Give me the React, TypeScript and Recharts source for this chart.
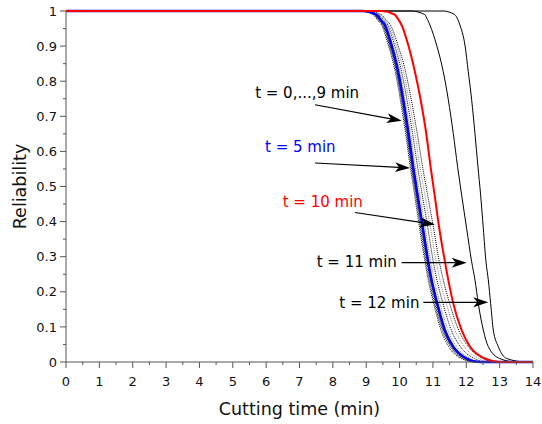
import { LineChart, Line, XAxis, YAxis, ReferenceLine, ReferenceDot, Label } from "recharts";

const FONT = "'DejaVu Sans', sans-serif";

// reliability levels shared by every curve; each curve lists the cutting time (min) where it hits them
const levels = [1, 1, 0.99, 0.975, 0.96, 0.903, 0.827, 0.748, 0.651, 0.556, 0.476, 0.381, 0.286, 0.234, 0.167, 0.091, 0.044, 0.01, 0, 0];

const t0 = [0, 8.8, 9.2, 9.33, 9.46, 9.66, 9.87, 10.02, 10.18, 10.32, 10.45, 10.6, 10.76, 10.86, 11.02, 11.24, 11.47, 11.85, 12.25, 14];
const t1 = [0, 8.82, 9.22, 9.36, 9.49, 9.69, 9.9, 10.05, 10.21, 10.35, 10.48, 10.63, 10.79, 10.89, 11.05, 11.28, 11.52, 11.9, 12.3, 14];
const t2 = [0, 8.85, 9.25, 9.38, 9.51, 9.71, 9.92, 10.07, 10.23, 10.37, 10.5, 10.66, 10.82, 10.92, 11.08, 11.31, 11.55, 11.94, 12.33, 14];
const t3 = [0, 8.87, 9.27, 9.4, 9.53, 9.73, 9.94, 10.09, 10.25, 10.39, 10.52, 10.68, 10.84, 10.94, 11.11, 11.33, 11.58, 11.97, 12.36, 14];
const t4 = [0, 8.88, 9.29, 9.42, 9.55, 9.75, 9.95, 10.1, 10.26, 10.4, 10.53, 10.69, 10.85, 10.95, 11.12, 11.34, 11.59, 11.99, 12.38, 14];
const t5 = [0, 8.9, 9.3, 9.43, 9.56, 9.76, 9.96, 10.11, 10.27, 10.41, 10.54, 10.7, 10.86, 10.96, 11.13, 11.36, 11.61, 12.01, 12.4, 14];
const t6 = [0, 8.93, 9.34, 9.47, 9.6, 9.8, 10.01, 10.16, 10.33, 10.47, 10.61, 10.77, 10.93, 11.04, 11.21, 11.45, 11.71, 12.12, 12.5, 14];
const t7 = [0, 8.96, 9.37, 9.51, 9.64, 9.85, 10.06, 10.22, 10.39, 10.54, 10.68, 10.85, 11.01, 11.12, 11.3, 11.55, 11.82, 12.24, 12.62, 14];
const t8 = [0, 9.0, 9.41, 9.55, 9.68, 9.9, 10.12, 10.28, 10.46, 10.61, 10.76, 10.93, 11.1, 11.21, 11.4, 11.66, 11.94, 12.37, 12.75, 14];
const t9 = [0, 9.04, 9.45, 9.59, 9.73, 9.95, 10.18, 10.35, 10.53, 10.69, 10.84, 11.02, 11.19, 11.31, 11.5, 11.77, 12.06, 12.5, 12.88, 14];
const t10 = [0, 9.45, 9.85, 9.97, 10.06, 10.26, 10.46, 10.63, 10.8, 10.93, 11.05, 11.19, 11.36, 11.46, 11.61, 11.86, 12.11, 12.56, 13.0, 14];
const t11 = [0, 10.35, 10.75, 10.84, 10.91, 11.11, 11.31, 11.46, 11.61, 11.74, 11.86, 12.01, 12.16, 12.26, 12.36, 12.51, 12.66, 13.0, 13.5, 14];
const t12 = [0, 11.3, 11.65, 11.75, 11.81, 11.96, 12.06, 12.16, 12.26, 12.35, 12.43, 12.51, 12.59, 12.66, 12.73, 12.81, 12.96, 13.21, 13.8, 14];

const xTicks = [0, 0.5, 1, 1.5, 2, 2.5, 3, 3.5, 4, 4.5, 5, 5.5, 6, 6.5, 7, 7.5, 8, 8.5, 9, 9.5, 10, 10.5, 11, 11.5, 12, 12.5, 13, 13.5, 14];
const yTicks = [0, 0.05, 0.1, 0.15, 0.2, 0.25, 0.3, 0.35, 0.4, 0.45, 0.5, 0.55, 0.6, 0.65, 0.7, 0.75, 0.8, 0.85, 0.9, 0.95, 1];

// annotation texts and arrow ends, in data units
const noteText = ["t = 0,...,9 min", "t = 5 min", "t = 10 min", "t = 11 min", "t = 12 min"];
const noteColor = ["#000000", "#0000ff", "#ff0000", "#000000", "#000000"];
const notePos = [[5.67, 0.752], [5.966, 0.598], [6.496, 0.442], [7.516, 0.271], [8.193, 0.155]];
const arrowFrom = [[7.465, 0.733], [7.465, 0.567], [8.664, 0.426], [10.064, 0.283], [10.712, 0.17]];
const arrowTo = [[10.064, 0.687], [10.313, 0.553], [11.062, 0.392], [12.012, 0.283], [12.66, 0.17]];

type Curve = { key: string; xs: number[]; color: string; width: number; dash?: string };

const curves: Curve[] = [
  { key: "t9", xs: t9, color: "#000", width: 1, dash: "1 1" },
  { key: "t8", xs: t8, color: "#888", width: 1, dash: "1 1" },
  { key: "t7", xs: t7, color: "#000", width: 1, dash: "1 1" },
  { key: "t6", xs: t6, color: "#888", width: 1, dash: "1 1" },
  { key: "t0", xs: t0, color: "#000", width: 1, dash: "1 1" },
  { key: "t1", xs: t1, color: "#000", width: 1, dash: "1 1" },
  { key: "t2", xs: t2, color: "#000", width: 1, dash: "1 1" },
  { key: "t3", xs: t3, color: "#000", width: 1, dash: "1 1" },
  { key: "t4", xs: t4, color: "#000", width: 1, dash: "1 1" },
  { key: "t11", xs: t11, color: "#000", width: 1 },
  { key: "t12", xs: t12, color: "#000", width: 1 },
  { key: "t5", xs: t5, color: "#0000ff", width: 2.5 },
  { key: "t10", xs: t10, color: "#ff0000", width: 2 },
];

const toPoints = (xs: number[]) => xs.map((x, i) => ({ x, r: levels[i] }));

const AXIS = "#555";

function XTick(props: any) {
  const { x, y, payload } = props;
  const v = payload.value as number;
  const major = Number.isInteger(v);
  return (
    <g>
      <line x1={x} x2={x} y1={y} y2={y + (major ? 6 : 3)} stroke={AXIS} />
      {major && (
        <text x={x} y={y + 24} textAnchor="middle" fontSize={13} fontFamily={FONT} fill="#111">
          {v}
        </text>
      )}
    </g>
  );
}

function YTick(props: any) {
  const { x, y, payload } = props;
  const v = payload.value as number;
  const major = Math.abs(v * 10 - Math.round(v * 10)) < 1e-6;
  return (
    <g>
      <line x1={x} x2={x - (major ? 6 : 3)} y1={y} y2={y} stroke={AXIS} />
      {major && (
        <text x={x - 9} y={y} dy="0.36em" textAnchor="end" fontSize={13} fontFamily={FONT} fill="#111">
          {String(v)}
        </text>
      )}
    </g>
  );
}

function Arrow(props: any) {
  const { x1, y1, x2, y2 } = props;
  const a = Math.atan2(y2 - y1, x2 - x1);
  const c = Math.cos(a);
  const s = Math.sin(a);
  const L = 15;
  const W = 5;
  const bx = x2 - L * c;
  const by = y2 - L * s;
  const nx = x2 - (L - 4) * c;
  const ny = y2 - (L - 4) * s;
  const pts = `${x2},${y2} ${bx - W * s},${by + W * c} ${nx},${ny} ${bx + W * s},${by - W * c}`;
  return (
    <g>
      <line x1={x1} y1={y1} x2={nx} y2={ny} stroke="#000" strokeWidth={1.2} />
      <polygon points={pts} fill="#000" />
    </g>
  );
}

export default function App() {
  return (
    <div style={{ position: "absolute", left: 0, top: 0, background: "#fff" }}>
      <LineChart width={542} height={424} margin={{ top: 11, right: 9, left: 0, bottom: 0 }}>
        <XAxis
          dataKey="x"
          type="number"
          domain={[0, 14]}
          ticks={xTicks}
          interval={0}
          tick={<XTick />}
          tickLine={false}
          tickSize={0}
          tickMargin={0}
          height={62}
          axisLine={{ stroke: AXIS }}
        >
          <Label
            content={(p: any) => {
              const vb = p.viewBox || { x: 66, y: 362, width: 467 };
              return (
                <text x={vb.x + vb.width / 2} y={vb.y + 53} textAnchor="middle" fontSize={17.5} fontFamily={FONT} fill="#111">
                  Cutting time (min)
                </text>
              );
            }}
          />
        </XAxis>
        <YAxis
          type="number"
          domain={[0, 1]}
          ticks={yTicks}
          interval={0}
          tick={<YTick />}
          tickLine={false}
          tickSize={0}
          tickMargin={0}
          width={66}
          axisLine={{ stroke: AXIS }}
        >
          <Label
            content={(p: any) => {
              const vb = p.viewBox || { x: 0, y: 11, height: 351 };
              const cx = vb.x + 20;
              const cy = vb.y + vb.height / 2;
              return (
                <text
                  x={cx}
                  y={cy}
                  transform={`rotate(-90 ${cx} ${cy})`}
                  textAnchor="middle"
                  dominantBaseline="central"
                  fontSize={17.5}
                  fontFamily={FONT}
                  fill="#111"
                >
                  Reliability
                </text>
              );
            }}
          />
        </YAxis>
        {curves.map((c) => (
          <Line
            key={c.key}
            data={toPoints(c.xs)}
            dataKey="r"
            type="monotone"
            stroke={c.color}
            strokeWidth={c.width}
            strokeDasharray={c.dash}
            dot={false}
            activeDot={false}
            isAnimationActive={false}
          />
        ))}
        {noteText.map((t, i) => (
          <ReferenceLine
            key={`arrow-${i}`}
            segment={[
              { x: arrowFrom[i][0], y: arrowFrom[i][1] },
              { x: arrowTo[i][0], y: arrowTo[i][1] },
            ]}
            shape={<Arrow />}
          />
        ))}
        {noteText.map((t, i) => (
          <ReferenceDot
            key={`note-${i}`}
            x={notePos[i][0]}
            y={notePos[i][1]}
            r={0}
            shape={(p: any) => (
              <text x={p.cx} y={p.cy} fontSize={15} fontFamily={FONT} fill={noteColor[i]}>
                {t}
              </text>
            )}
          />
        ))}
      </LineChart>
    </div>
  );
}
